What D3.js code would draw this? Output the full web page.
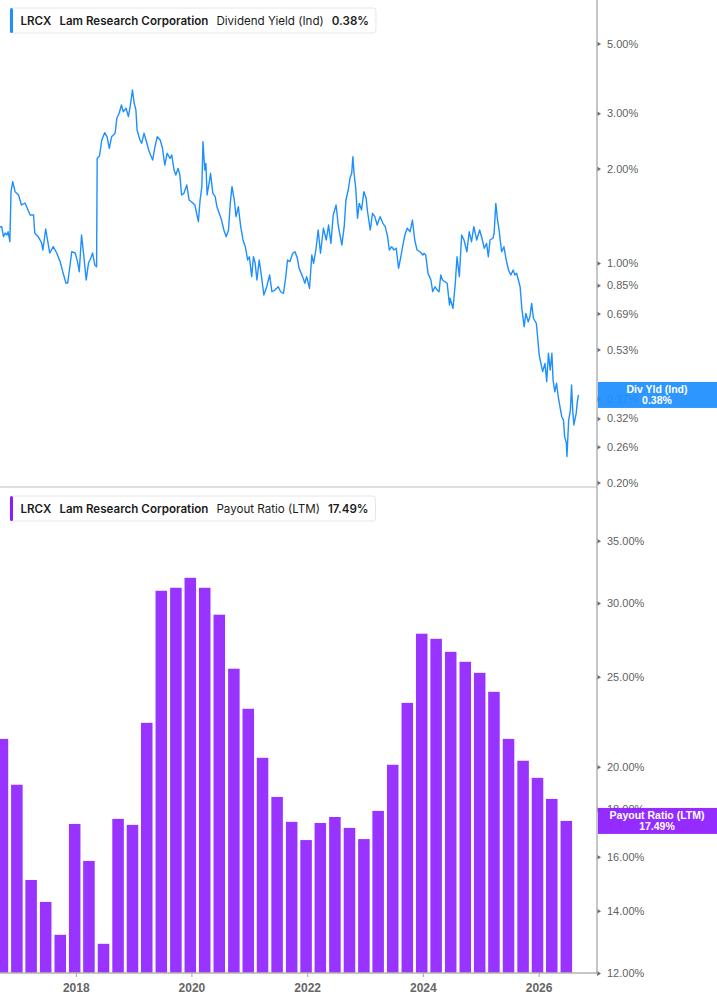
<!DOCTYPE html>
<html>
<head>
<meta charset="utf-8">
<script src="https://cdn.jsdelivr.net/npm/d3@7"></script>
<style>
  html, body { margin: 0; padding: 0; background: #fff; }
  svg { display: block; }
</style>
</head>
<body>
<div id="chart"></div>
<script>
// dividend yield (ind), %, dates as decimal years
const yieldDates = [
  2016.69, 2016.72, 2016.75, 2016.78, 2016.81, 2016.83, 2016.86, 2016.88, 2016.91, 2016.95,
  2017.01, 2017.06, 2017.12, 2017.15, 2017.21, 2017.27, 2017.29, 2017.35, 2017.41, 2017.43,
  2017.48, 2017.52, 2017.55, 2017.61, 2017.67, 2017.73, 2017.78, 2017.83, 2017.86, 2017.89,
  2017.93, 2017.99, 2018.03, 2018.06, 2018.10, 2018.14, 2018.18, 2018.22, 2018.26, 2018.29,
  2018.33, 2018.36, 2018.37, 2018.41, 2018.45, 2018.50, 2018.54, 2018.58, 2018.62, 2018.68,
  2018.71, 2018.75, 2018.79, 2018.82, 2018.87, 2018.91, 2018.94, 2018.98, 2019.01, 2019.04,
  2019.06, 2019.11, 2019.14, 2019.18, 2019.23, 2019.27, 2019.33, 2019.37, 2019.41, 2019.46,
  2019.50, 2019.54, 2019.58, 2019.63, 2019.66, 2019.70, 2019.73, 2019.77, 2019.80, 2019.83,
  2019.87, 2019.92, 2019.96, 2020.00, 2020.06, 2020.09, 2020.12, 2020.15, 2020.18, 2020.20,
  2020.23, 2020.25, 2020.27, 2020.31, 2020.33, 2020.37, 2020.41, 2020.44, 2020.48, 2020.52,
  2020.56, 2020.60, 2020.64, 2020.67, 2020.70, 2020.74, 2020.77, 2020.81, 2020.85, 2020.89,
  2020.93, 2020.97, 2021.00, 2021.04, 2021.07, 2021.10, 2021.13, 2021.17, 2021.21, 2021.25,
  2021.30, 2021.35, 2021.39, 2021.44, 2021.50, 2021.54, 2021.59, 2021.63, 2021.66, 2021.70,
  2021.75, 2021.79, 2021.83, 2021.86, 2021.92, 2021.96, 2021.99, 2022.04, 2022.08, 2022.11,
  2022.15, 2022.19, 2022.23, 2022.28, 2022.33, 2022.37, 2022.41, 2022.45, 2022.50, 2022.54,
  2022.60, 2022.64, 2022.67, 2022.71, 2022.74, 2022.77, 2022.79, 2022.81, 2022.84, 2022.87,
  2022.90, 2022.94, 2022.98, 2023.02, 2023.04, 2023.09, 2023.13, 2023.17, 2023.21, 2023.26,
  2023.31, 2023.35, 2023.39, 2023.42, 2023.46, 2023.50, 2023.54, 2023.58, 2023.62, 2023.65,
  2023.69, 2023.73, 2023.78, 2023.82, 2023.86, 2023.90, 2023.95, 2024.00, 2024.02, 2024.05,
  2024.09, 2024.14, 2024.17, 2024.21, 2024.25, 2024.28, 2024.31, 2024.34, 2024.38, 2024.42,
  2024.46, 2024.47, 2024.52, 2024.56, 2024.59, 2024.63, 2024.67, 2024.71, 2024.76, 2024.80,
  2024.84, 2024.88, 2024.93, 2024.98, 2025.02, 2025.06, 2025.10, 2025.13, 2025.16, 2025.21,
  2025.23, 2025.26, 2025.29, 2025.32, 2025.36, 2025.40, 2025.44, 2025.48, 2025.52, 2025.56,
  2025.59, 2025.62, 2025.65, 2025.68, 2025.71, 2025.75, 2025.78, 2025.82, 2025.85, 2025.88,
  2025.91, 2025.96, 2025.98, 2026.01, 2026.04, 2026.07, 2026.11, 2026.14, 2026.17, 2026.20,
  2026.23, 2026.25, 2026.28, 2026.31, 2026.34, 2026.37, 2026.40, 2026.43, 2026.45, 2026.48,
  2026.49, 2026.52, 2026.55, 2026.57, 2026.59, 2026.61, 2026.65, 2026.67, 2026.69
];
const yieldValues = [
  1.305, 1.305, 1.213, 1.246, 1.228, 1.258, 1.169, 1.687, 1.815, 1.687,
  1.647, 1.530, 1.553, 1.511, 1.422, 1.422, 1.246, 1.213, 1.158, 1.100,
  1.283, 1.158, 1.076, 1.127, 1.076, 1.010, 0.929, 0.864, 0.864, 0.950,
  1.086, 1.076, 1.010, 0.938, 1.228, 1.047, 0.883, 1.000, 1.037, 1.076,
  0.985, 0.973, 2.155, 2.192, 2.465, 2.600, 2.525, 2.319, 2.525, 2.589,
  2.889, 2.998, 3.186, 3.033, 3.110, 2.924, 3.147, 3.556, 3.226, 3.072,
  2.652, 2.465, 2.406, 2.589, 2.406, 2.262, 2.128, 2.346, 2.525, 2.465,
  2.319, 2.051, 2.236, 2.155, 2.208, 1.978, 1.907, 2.002, 1.907, 1.647,
  1.667, 1.772, 1.587, 1.567, 1.530, 1.440, 1.354, 1.587, 1.750, 2.434,
  1.978, 2.077, 1.647, 1.815, 1.931, 1.667, 1.626, 1.511, 1.440, 1.370,
  1.274, 1.213, 1.274, 1.549, 1.750, 1.587, 1.405, 1.511, 1.305, 1.184,
  1.127, 1.022, 1.047, 0.905, 1.047, 0.998, 0.883, 1.022, 0.905, 0.791,
  0.840, 0.916, 0.810, 0.820, 0.840, 0.810, 0.801, 0.905, 1.022, 1.010,
  1.074, 1.086, 1.035, 0.962, 0.905, 0.862, 0.905, 0.831, 1.060, 0.998,
  1.100, 1.274, 1.074, 1.290, 1.184, 1.321, 1.155, 1.422, 1.530, 1.305,
  1.141, 1.305, 1.587, 1.708, 1.861, 1.931, 2.180, 1.931, 1.729, 1.388,
  1.549, 1.475, 1.687, 1.607, 1.475, 1.274, 1.440, 1.405, 1.321, 1.405,
  1.338, 1.305, 1.213, 1.100, 1.127, 1.100, 1.114, 0.962, 1.047, 1.127,
  1.228, 1.290, 1.258, 1.370, 1.184, 1.100, 1.086, 1.060, 1.074, 1.060,
  0.927, 0.883, 0.810, 0.840, 0.820, 0.810, 0.916, 0.883, 0.872, 0.862,
  0.735, 0.772, 0.717, 0.862, 1.047, 0.905, 1.228, 1.184, 1.086, 1.258,
  1.169, 1.305, 1.184, 1.274, 1.199, 1.114, 1.155, 1.047, 1.184, 1.199,
  1.243, 1.549, 1.370, 1.258, 1.086, 1.127, 1.022, 0.950, 0.916, 0.950,
  0.916, 0.927, 0.883, 0.840, 0.717, 0.627, 0.691, 0.650, 0.675, 0.744,
  0.667, 0.643, 0.590, 0.509, 0.479, 0.451, 0.479, 0.419, 0.516, 0.456,
  0.516, 0.424, 0.389, 0.414, 0.375, 0.348, 0.324, 0.316, 0.280, 0.267,
  0.242, 0.316, 0.340, 0.409, 0.340, 0.305, 0.332, 0.362, 0.380
];

// payout ratio (LTM), quarterly, %
const payoutDates = [
  "2016-09-25", "2016-12-25", "2017-03-25", "2017-06-25", "2017-09-25", "2017-12-25",
  "2018-03-25", "2018-06-25", "2018-09-25", "2018-12-25", "2019-03-25", "2019-06-25",
  "2019-09-25", "2019-12-25", "2020-03-25", "2020-06-25", "2020-09-25", "2020-12-25",
  "2021-03-25", "2021-06-25", "2021-09-25", "2021-12-25", "2022-03-25", "2022-06-25",
  "2022-09-25", "2022-12-25", "2023-03-25", "2023-06-25", "2023-09-25", "2023-12-25",
  "2024-03-25", "2024-06-25", "2024-09-25", "2024-12-25", "2025-03-25", "2025-06-25",
  "2025-09-25", "2025-12-25", "2026-03-25", "2026-06-25"
];
const payoutValues = [
  21.43, 19.13, 15.11, 14.31, 13.19, 17.36, 15.84, 12.90, 17.58, 17.32,
  22.30, 30.93, 31.16, 31.94, 31.16, 29.15, 25.50, 23.09, 20.45, 18.56,
  17.45, 16.68, 17.40, 17.66, 17.19, 16.72, 17.93, 20.10, 23.43, 27.81,
  27.46, 26.59, 25.94, 25.24, 24.08, 21.43, 20.30, 19.46, 18.47, 17.49
];

const yieldTicks = [5, 3, 2, 1, 0.85, 0.69, 0.53, 0.37, 0.32, 0.26, 0.20];
const payoutTicks = [35, 30, 25, 20, 18, 16, 14, 12];
const yearTicks = [2018, 2020, 2022, 2024, 2026];

const ticker = "LRCX";
const company = "Lam Research Corporation";
const yieldName = "Dividend Yield (Ind)", yieldShort = "Div Yld (Ind)", yieldLast = 0.38;
const payoutName = "Payout Ratio (LTM)", payoutLast = 17.49;

document.addEventListener("DOMContentLoaded", function () {
    const width = 717, height = 1005;
    const plotRight = 597;
    const topPanel = {top: 0, bottom: 487};
    const botPanel = {top: 490, bottom: 973};

    const blue = "#1e8fff", purple = "#9933ff", purpleLabel = "#8c1cff";
    const axisFont = "'Liberation Sans', Arial, sans-serif";
    const legendFont = "Inter, 'Noto Sans', sans-serif";

    // decimal year -> Date
    function dec(t) {
        const y = Math.floor(t);
        const s = Date.UTC(y, 0, 1), e = Date.UTC(y + 1, 0, 1);
        return new Date(s + (t - y) * (e - s));
    }
    const fmtPct = d => d.toFixed(2) + "%";

    const svg = d3.select("#chart").append("svg")
        .attr("width", width).attr("height", height);

    const defs = svg.append("defs");
    defs.append("clipPath").attr("id", "clipTop").append("rect")
        .attr("x", 0).attr("y", topPanel.top).attr("width", plotRight).attr("height", topPanel.bottom - topPanel.top);
    defs.append("clipPath").attr("id", "clipBot").append("rect")
        .attr("x", 0).attr("y", botPanel.top).attr("width", plotRight).attr("height", botPanel.bottom - botPanel.top);

    //scales
    const x = d3.scaleUtc().domain([dec(2016.69), dec(2027.01)]).range([0, plotRight]);
    const yTop = d3.scaleLog().domain([0.1935, 6.88]).range([topPanel.bottom, topPanel.top]);
    const yBot = d3.scaleLog().domain([12, 39.7]).range([botPanel.bottom, botPanel.top]);

    //panel separator
    svg.append("line")
        .attr("x1", 0).attr("x2", plotRight)
        .attr("y1", topPanel.bottom).attr("y2", topPanel.bottom)
        .attr("stroke", "#dedede").attr("stroke-width", 2);

    //dividend yield line
    const yieldData = yieldDates.map((t, i) => ({date: dec(t), value: yieldValues[i]}));
    svg.append("g").attr("clip-path", "url(#clipTop)")
        .append("path")
        .datum(yieldData)
        .attr("fill", "none")
        .attr("stroke", blue)
        .attr("stroke-width", 1.4)
        .attr("stroke-linejoin", "round")
        .attr("d", d3.line()
            .x(d => x(d.date))
            .y(d => yTop(d.value)));

    //payout ratio bars
    const payoutData = payoutDates.map((s, i) => ({date: new Date(s + "T00:00:00Z"), value: payoutValues[i]}));
    const step = x(payoutData[1].date) - x(payoutData[0].date);
    const barW = step * 0.8;
    svg.append("g").attr("clip-path", "url(#clipBot)")
        .selectAll("rect")
        .data(payoutData)
        .enter()
        .append("rect")
        .attr("fill", purple)
        .attr("x", d => x(d.date) - barW / 2)
        .attr("width", barW)
        .attr("y", d => yBot(d.value))
        .attr("height", d => yBot.range()[0] - yBot(d.value));

    //right axes
    function rightAxis(scale, ticks) {
        const g = svg.append("g")
            .attr("transform", `translate(${plotRight},0)`)
            .call(d3.axisRight(scale).tickValues(ticks).tickFormat(fmtPct).tickSize(0).tickPadding(10));
        g.select(".domain").remove();
        g.selectAll(".tick text")
            .attr("fill", "#5f5f5f")
            .style("font-family", axisFont)
            .style("font-size", "11px");
        g.selectAll(".tick").append("path")
            .attr("d", "M0,-2.5L4,0L0,2.5Z")
            .attr("fill", "#6a6a6a");
    }
    rightAxis(yTop, yieldTicks);
    rightAxis(yBot, payoutTicks);

    svg.append("line")
        .attr("x1", plotRight).attr("x2", plotRight)
        .attr("y1", 0).attr("y2", botPanel.bottom + 1)
        .attr("stroke", "#b3b3b3").attr("stroke-width", 1.5);

    //x axis
    const xAxisG = svg.append("g")
        .attr("transform", `translate(0,${botPanel.bottom})`)
        .call(d3.axisBottom(x)
            .tickValues(yearTicks.map(y => new Date(Date.UTC(y, 0, 1))))
            .tickFormat(d3.utcFormat("%Y"))
            .tickSize(4)
            .tickPadding(6));
    xAxisG.select(".domain").remove();
    xAxisG.selectAll(".tick line").attr("stroke", "#a0a0a0");
    xAxisG.selectAll(".tick text")
        .attr("fill", "#666")
        .style("font-family", axisFont)
        .style("font-size", "12px")
        .style("font-weight", "bold");
    svg.append("line")
        .attr("x1", 0).attr("x2", plotRight)
        .attr("y1", botPanel.bottom).attr("y2", botPanel.bottom)
        .attr("stroke", "#b3b3b3").attr("stroke-width", 1.5);

    //last value labels on the axis
    function valueTag(yPos, color, line1, line2) {
        const g = svg.append("g");
        g.append("rect")
            .attr("x", plotRight + 1).attr("y", yPos - 13)
            .attr("width", width - plotRight - 1).attr("height", 26)
            .attr("fill", color).attr("fill-opacity", 0.93);
        [line1, line2].forEach((t, i) => {
            g.append("text")
                .attr("x", (plotRight + width) / 2)
                .attr("y", yPos - 1.5 + i * 11)
                .attr("text-anchor", "middle")
                .attr("fill", "#fff")
                .style("font-family", axisFont)
                .style("font-size", "10.5px")
                .style("font-weight", "bold")
                .text(t);
        });
    }
    valueTag(yTop(yieldLast), blue, yieldShort, fmtPct(yieldLast));
    valueTag(yBot(payoutLast), purpleLabel, payoutName, fmtPct(payoutLast));

    //legends
    function legend(top, color, metric, value) {
        const g = svg.append("g");
        const box = g.append("rect")
            .attr("x", 10).attr("y", top).attr("height", 25).attr("rx", 3)
            .attr("fill", "#fff").attr("stroke", "#e6e6e6");
        g.append("rect")
            .attr("x", 10).attr("y", top).attr("width", 3).attr("height", 25).attr("rx", 1.5)
            .attr("fill", color);
        const parts = [
            {t: ticker, w: 600},
            {t: company, w: 600},
            {t: metric, w: 400},
            {t: value, w: 600}
        ];
        const gap = 8;
        let cx = 20.5;
        parts.forEach(p => {
            const txt = g.append("text")
                .attr("x", cx).attr("y", top + 17)
                .attr("fill", "#1c1c1c")
                .style("font-family", legendFont)
                .style("font-size", "11.6px")
                .style("font-weight", p.w)
                .text(p.t);
            cx += txt.node().getComputedTextLength() + gap;
        });
        box.attr("width", cx - gap + 7 - 10);
    }
    legend(8, blue, yieldName, fmtPct(yieldLast));
    legend(496, purpleLabel, payoutName, fmtPct(payoutLast));
});
</script>
</body>
</html>
